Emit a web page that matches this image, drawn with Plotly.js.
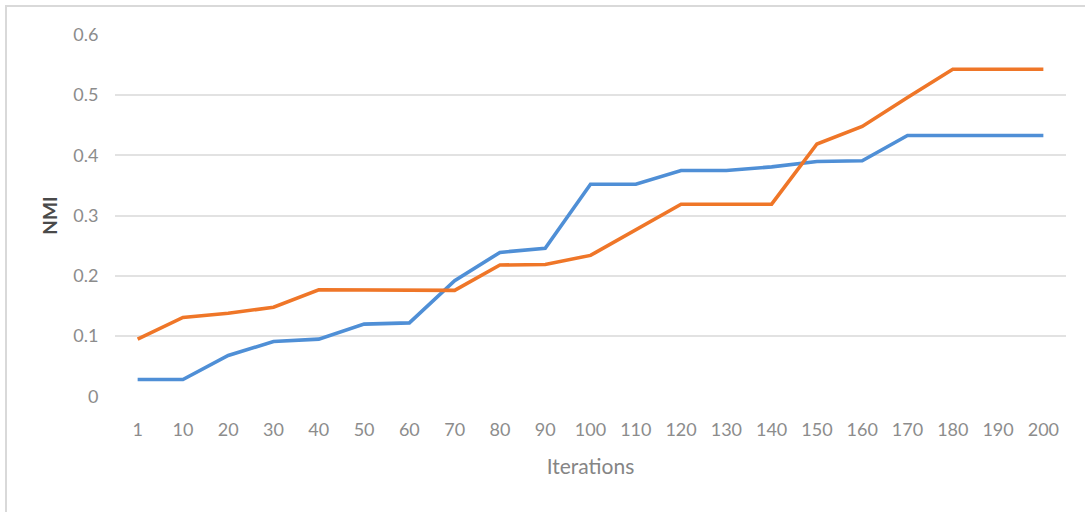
<!DOCTYPE html>
<html>
<head>
<meta charset="utf-8">
<script src="https://cdn.plot.ly/plotly-3.0.1.min.js"></script>
<style>
  html, body { margin: 0; padding: 0; background: #ffffff; }
  #wrap { position: relative; width: 1085px; height: 512px; overflow: hidden; }
  #frame { position: absolute; left: 5px; top: 5px; width: 1100px; height: 530px;
           border: 2px solid #d9d9d9; box-sizing: border-box; pointer-events: none; }
  #chart { position: absolute; left: 0; top: 0; width: 1085px; height: 512px; }
</style>
</head>
<body>
<div id="wrap">
  <div id="chart"></div>
  <div id="frame"></div>
</div>
<script>
// Iteration checkpoints (category axis)
const iterations = ['1','10','20','30','40','50','60','70','80','90','100',
                    '110','120','130','140','150','160','170','180','190','200'];

// NMI per iteration, blue series
const nmiBlue = [0.028, 0.028, 0.068, 0.091, 0.095, 0.120, 0.122, 0.192, 0.239, 0.246, 0.352,
                 0.352, 0.375, 0.375, 0.381, 0.390, 0.391, 0.433, 0.433, 0.433, 0.433];

// NMI per iteration, orange series
const nmiOrange = [0.095, 0.131, 0.138, 0.148, 0.177, 0.177, 0.177, 0.176, 0.218, 0.219, 0.234,
                   0.276, 0.319, 0.319, 0.319, 0.419, 0.448, 0.496, 0.543, 0.543, 0.543];

const yTicks = [0, 0.1, 0.2, 0.3, 0.4, 0.5, 0.6];

const fontFam = 'Lato, "Open Sans", sans-serif';

const traces = [
  { x: iterations, y: nmiBlue, type: 'scatter', mode: 'lines',
    line: { color: '#4f8fd6', width: 3.6 }, hoverinfo: 'x+y' },
  { x: iterations, y: nmiOrange, type: 'scatter', mode: 'lines',
    line: { color: '#ef7628', width: 3.6 }, hoverinfo: 'x+y' }
];

const layout = {
  width: 1085, height: 512,
  margin: { l: 115, r: 19, t: 34, b: 115 },
  paper_bgcolor: 'rgba(0,0,0,0)',
  plot_bgcolor: '#ffffff',
  showlegend: false,
  font: { family: fontFam, color: '#8a8a8a', size: 18 },
  xaxis: {
    type: 'category',
    range: [-0.5, iterations.length - 0.5],
    showgrid: false, zeroline: false, showline: false,
    ticks: 'outside', ticklen: 16, tickcolor: 'rgba(0,0,0,0)',
    tickfont: { family: fontFam, size: 18, color: '#8c8c8c' },
    title: { text: 'Iterations', standoff: 20,
             font: { family: fontFam, size: 21, color: '#858585' } },
    fixedrange: true
  },
  yaxis: {
    range: [-0.001, 0.6015],
    tickvals: yTicks,
    ticktext: yTicks.map(v => String(v)),
    showgrid: true, gridcolor: '#e2e2e2', gridwidth: 2,
    zeroline: false, showline: false,
    ticks: 'outside', ticklen: 12, tickcolor: 'rgba(0,0,0,0)',
    tickfont: { family: fontFam, size: 18, color: '#8c8c8c' },
    title: { text: 'NMI', standoff: 10,
             font: { family: fontFam, size: 19, color: '#4a4a4a', weight: 'bold' } },
    fixedrange: true
  }
};

Plotly.newPlot('chart', traces, layout, { displayModeBar: false, staticPlot: true });
</script>
</body>
</html>
